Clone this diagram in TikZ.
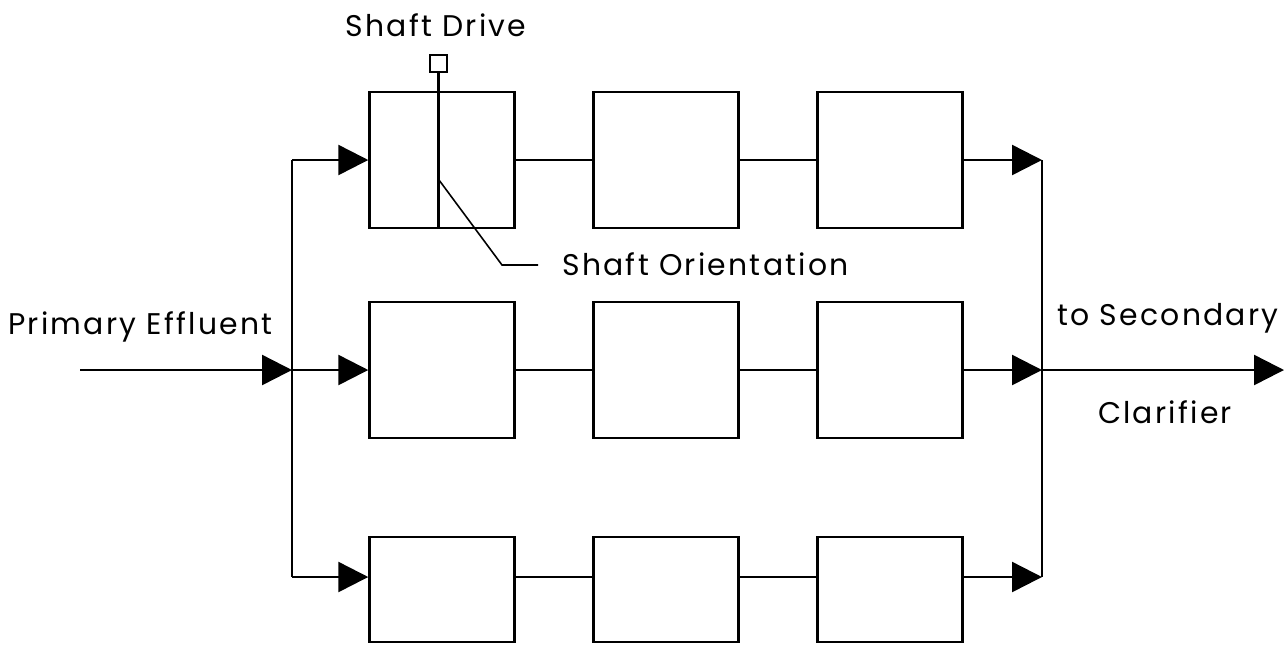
\documentclass[tikz,border=0pt]{standalone}
\usepackage{fontspec}
\setmainfont{Poppins}
\newfontfamily\cadfont[LetterSpace=7.5]{Poppins}
\usetikzlibrary{arrows.meta, positioning, calc}

\begin{document}
\begin{tikzpicture}[
  x=0.2mm, y=-0.2mm,
  tank/.style={rectangle, draw, line width=1.4pt, inner sep=0pt,
               minimum width=29mm, minimum height=27.2mm},
  lowtank/.style={tank, minimum height=21mm},
  lbl/.style={font=\cadfont\fontsize{17}{20}\selectfont, inner sep=0pt},
  pipe/.style={line width=1.4pt},
  arr/.style={pipe, -{Triangle[length=6mm, width=6mm]}},
]
\useasboundingbox (0,0) rectangle (1285,644);
\clip (0,0) rectangle (1285,644);

% === Tanks, three trains of three ===
\node[tank]    (b11) at (442, 160) {};
\node[tank]    (b12) at (666, 160) {};
\node[tank]    (b13) at (890, 160) {};
\node[tank]    (b21) at (442, 370) {};
\node[tank]    (b22) at (666, 370) {};
\node[tank]    (b23) at (890, 370) {};
\node[lowtank] (b31) at (442, 589.5) {};
\node[lowtank] (b32) at (666, 589.5) {};
\node[lowtank] (b33) at (890, 589.5) {};

% === Distribution and collection points ===
\coordinate (in)   at (80, 370);
\coordinate (dtop) at (292, 160);
\coordinate (dmid) at (292, 370);
\coordinate (dbot) at (292, 577);
\coordinate (ctop) at (1042, 160);
\coordinate (cmid) at (1042, 370);
\coordinate (cbot) at (1042, 577);
\coordinate (out)  at (1284, 370);

% === Influent and distribution header ===
\draw[arr] (in) -- (dmid);
\draw[pipe] (dtop) -- (dbot);
\draw[arr] (dtop) -- (b11.west);
\draw[arr] (dmid) -- (b21.west);
\draw[arr] (dbot) -- (dbot -| b31.west);

% === Links between tanks ===
\draw[pipe] (b11.east) -- (b12.west);
\draw[pipe] (b12.east) -- (b13.west);
\draw[pipe] (b21.east) -- (b22.west);
\draw[pipe] (b22.east) -- (b23.west);
\draw[pipe] (dbot -| b31.east) -- (dbot -| b32.west);
\draw[pipe] (dbot -| b32.east) -- (dbot -| b33.west);

% === Collection header and effluent ===
\draw[arr] (b13.east) -- (ctop);
\draw[arr] (b23.east) -- (cmid);
\draw[arr] (dbot -| b33.east) -- (cbot);
\draw[pipe] (ctop) -- (cbot);
\draw[arr] (cmid) -- (out);

% === Shaft detail on the first tank ===
\node[draw, line width=1pt, minimum size=3.5mm, inner sep=0pt]
  (drive) at (438.5, 63.5) {};
\coordinate (shaftpt) at (439, 180);
\draw[pipe] (drive.south) -- (drive.south |- b11.south);
\draw[line width=0.9pt] (shaftpt) -- (502, 265) -- (538, 265)
  coordinate (lead);

% === Labels ===
\node[lbl, anchor=base] (drivelbl) at (436, 36) {Shaft Drive};
\node[lbl, anchor=base west] (orient) at (562, 275) {Shaft Orientation};
\node[lbl, anchor=base west] (inlbl) at (8, 334) {Primary Effluent};
\node[lbl, anchor=base west] (outlbl) at (1057, 325) {to Secondary};
\node[lbl, anchor=base] (clar) at (1165, 423) {Clarifier};

\end{tikzpicture}
\end{document}
